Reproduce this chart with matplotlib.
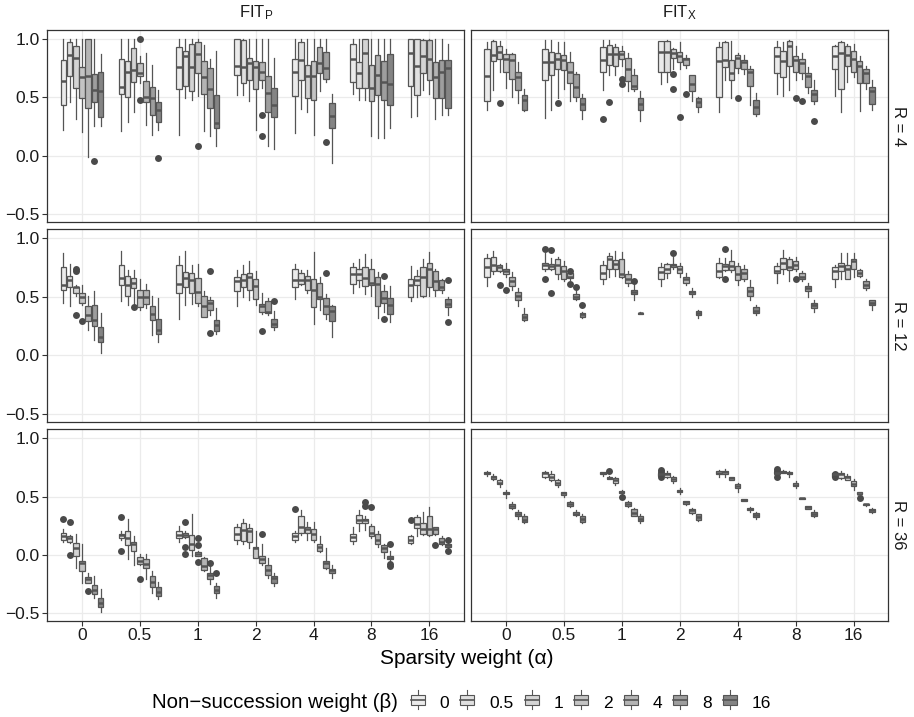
import matplotlib.pyplot as plt
from matplotlib.patches import Rectangle, Patch
from matplotlib.lines import Line2D
from matplotlib.legend_handler import HandlerBase

plt.rcParams['font.family'] = ['Liberation Sans', 'DejaVu Sans']
plt.rcParams['mathtext.default'] = 'regular'

alphas = ['0', '0.5', '1', '2', '4', '8', '16']
betas = ['0', '0.5', '1', '2', '4', '8', '16']
fills = ['#EBEBEB', '#E0E0E0', '#D4D4D4', '#C4C4C4', '#B4B4B4', '#9E9E9E', '#848484']
col_titles = [r'FIT$_{P}$', r'FIT$_{X}$']
row_titles = ['R = 4', 'R = 12', 'R = 36']
y_labels = ['\u22120.5', '0.0', '0.5', '1.0']

# each box: (lower whisker, q1, median, q3, upper whisker); one row of 7 betas per alpha
fitp_r4 = [
    [(0.22, 0.43, 0.64, 0.82, 1.0), (0.46, 0.68, 0.86, 0.97, 1.0), (0.31, 0.58, 0.84, 0.94, 1.0), (0.20, 0.49, 0.67, 0.76, 1.0), (-0.01, 0.41, 0.68, 1.0, 1.0), (0.25, 0.46, 0.56, 0.70, 1.0), (0.25, 0.33, 0.55, 0.72, 0.87)],
    [(0.21, 0.53, 0.59, 0.83, 1.0), (0.29, 0.50, 0.72, 0.81, 1.0), (0.37, 0.63, 0.73, 0.92, 1.0), (0.62, 0.68, 0.71, 0.79, 0.85), (0.26, 0.46, 0.50, 0.64, 0.88), (0.18, 0.35, 0.49, 0.59, 0.78), (0.22, 0.29, 0.39, 0.46, 0.56)],
    [(0.18, 0.57, 0.76, 0.93, 1.0), (0.49, 0.60, 0.85, 0.90, 1.0), (0.48, 0.55, 0.76, 0.96, 1.0), (0.51, 0.71, 0.87, 0.97, 1.0), (0.21, 0.53, 0.67, 0.81, 0.95), (0.17, 0.41, 0.57, 0.75, 0.83), (0.08, 0.24, 0.28, 0.52, 0.90)],
    [(0.52, 0.69, 0.77, 1.0, 1.0), (0.52, 0.62, 0.76, 0.99, 1.0), (0.47, 0.65, 0.79, 0.84, 1.0), (0.22, 0.57, 0.76, 0.81, 1.0), (0.58, 0.65, 0.72, 0.80, 1.0), (0.08, 0.37, 0.54, 0.68, 1.0), (0.06, 0.33, 0.43, 0.58, 0.84)],
    [(0.19, 0.51, 0.72, 0.83, 1.0), (0.40, 0.65, 0.82, 0.97, 1.0), (0.37, 0.49, 0.68, 0.78, 1.0), (0.18, 0.48, 0.68, 0.81, 1.0), (0.55, 0.71, 0.79, 0.93, 1.0), (0.63, 0.66, 0.75, 0.89, 1.0), (-0.06, 0.24, 0.34, 0.45, 0.53)],
    [(0.53, 0.63, 0.83, 0.96, 1.0), (0.48, 0.58, 0.71, 0.80, 1.0), (0.48, 0.58, 0.88, 1.0, 1.0), (0.17, 0.47, 0.58, 0.78, 1.0), (0.15, 0.52, 0.69, 0.86, 1.0), (0.15, 0.48, 0.63, 0.81, 1.0), (0.24, 0.43, 0.61, 0.87, 1.0)],
    [(0.33, 0.60, 0.88, 1.0, 1.0), (0.34, 0.52, 0.77, 1.0, 1.0), (0.56, 0.71, 0.85, 0.99, 1.0), (0.53, 0.65, 0.83, 0.99, 1.0), (0.31, 0.49, 0.67, 0.80, 1.0), (0.35, 0.49, 0.72, 0.82, 1.0), (0.35, 0.41, 0.75, 0.82, 0.96)],
]
# outliers: (alpha index, beta index, value)
fitp_r4_out = [(0, 5, -0.05), (1, 3, 1.0), (1, 3, 0.48), (1, 6, -0.02), (2, 3, 0.08),
               (3, 4, 0.35), (3, 4, 0.17), (4, 5, 0.12)]

fitx_r4 = [
    [(0.39, 0.47, 0.68, 0.91, 0.97), (0.56, 0.81, 0.86, 0.98, 0.99), (0.72, 0.83, 0.89, 0.94, 0.98), (0.58, 0.72, 0.83, 0.87, 0.91), (0.50, 0.66, 0.82, 0.87, 0.88), (0.45, 0.56, 0.67, 0.72, 0.80), (0.38, 0.39, 0.48, 0.52, 0.57)],
    [(0.32, 0.65, 0.80, 0.91, 0.99), (0.39, 0.69, 0.80, 0.89, 0.99), (0.49, 0.74, 0.83, 0.88, 0.97), (0.57, 0.73, 0.82, 0.86, 0.97), (0.47, 0.62, 0.72, 0.80, 0.89), (0.47, 0.50, 0.59, 0.70, 0.72), (0.31, 0.39, 0.44, 0.49, 0.53)],
    [(0.56, 0.72, 0.82, 0.93, 0.99), (0.69, 0.78, 0.87, 0.95, 0.99), (0.69, 0.77, 0.87, 0.93, 0.96), (0.77, 0.83, 0.87, 0.90, 0.94), (0.55, 0.64, 0.74, 0.84, 0.88), (0.55, 0.57, 0.60, 0.69, 0.74), (0.30, 0.39, 0.44, 0.49, 0.55)],
    [(0.61, 0.72, 0.89, 0.98, 0.98), (0.63, 0.72, 0.89, 0.98, 0.99), (0.74, 0.84, 0.88, 0.91, 0.92), (0.74, 0.80, 0.85, 0.89, 0.97), (0.75, 0.78, 0.83, 0.84, 0.86), (0.47, 0.55, 0.61, 0.69, 0.69), (0.37, 0.42, 0.46, 0.49, 0.50)],
    [(0.37, 0.50, 0.81, 0.93, 0.97), (0.65, 0.76, 0.82, 0.97, 0.98), (0.49, 0.65, 0.71, 0.82, 0.98), (0.71, 0.75, 0.84, 0.86, 0.88), (0.70, 0.74, 0.80, 0.82, 0.86), (0.43, 0.60, 0.72, 0.74, 0.77), (0.34, 0.36, 0.42, 0.48, 0.54)],
    [(0.53, 0.71, 0.85, 0.93, 0.98), (0.51, 0.67, 0.81, 0.90, 0.97), (0.56, 0.77, 0.94, 0.98, 0.99), (0.65, 0.72, 0.82, 0.85, 0.94), (0.66, 0.71, 0.79, 0.83, 0.88), (0.54, 0.59, 0.68, 0.71, 0.76), (0.44, 0.47, 0.53, 0.56, 0.65)],
    [(0.51, 0.74, 0.85, 0.94, 0.95), (0.37, 0.57, 0.88, 0.97, 0.98), (0.63, 0.77, 0.86, 0.94, 0.96), (0.67, 0.72, 0.83, 0.90, 0.96), (0.38, 0.62, 0.77, 0.81, 0.85), (0.57, 0.62, 0.71, 0.74, 0.77), (0.39, 0.44, 0.55, 0.59, 0.65)],
]
fitx_r4_out = [(0, 2, 0.45), (1, 2, 0.45), (2, 0, 0.31), (2, 1, 0.46), (2, 3, 0.66), (2, 3, 0.61),
               (3, 2, 0.70), (3, 2, 0.57), (3, 3, 0.33), (3, 4, 0.53), (4, 3, 0.49),
               (5, 3, 0.49), (5, 4, 0.47), (5, 6, 0.30)]

fitp_r12 = [
    [(0.45, 0.56, 0.60, 0.75, 0.87), (0.42, 0.58, 0.64, 0.68, 0.78), (0.51, 0.53, 0.58, 0.58, 0.60), (0.43, 0.45, 0.50, 0.53, 0.60), (0.22, 0.29, 0.34, 0.42, 0.51), (0.13, 0.25, 0.30, 0.43, 0.55), (0.02, 0.11, 0.16, 0.24, 0.36)],
    [(0.46, 0.60, 0.66, 0.77, 0.89), (0.43, 0.51, 0.60, 0.68, 0.73), (0.43, 0.57, 0.62, 0.66, 0.73), (0.39, 0.41, 0.50, 0.56, 0.65), (0.40, 0.44, 0.50, 0.56, 0.61), (0.17, 0.30, 0.35, 0.42, 0.51), (0.11, 0.18, 0.22, 0.31, 0.49)],
    [(0.31, 0.53, 0.61, 0.77, 0.85), (0.43, 0.58, 0.66, 0.71, 0.89), (0.44, 0.53, 0.64, 0.70, 0.77), (0.42, 0.45, 0.54, 0.66, 0.78), (0.33, 0.33, 0.42, 0.51, 0.55), (0.34, 0.39, 0.45, 0.47, 0.50), (0.18, 0.21, 0.26, 0.30, 0.40)],
    [(0.42, 0.55, 0.63, 0.67, 0.73), (0.50, 0.58, 0.64, 0.69, 0.77), (0.47, 0.56, 0.67, 0.70, 0.80), (0.43, 0.48, 0.59, 0.65, 0.72), (0.35, 0.37, 0.42, 0.44, 0.53), (0.34, 0.36, 0.37, 0.46, 0.49), (0.22, 0.24, 0.27, 0.31, 0.38)],
    [(0.48, 0.58, 0.64, 0.74, 0.78), (0.60, 0.61, 0.64, 0.70, 0.73), (0.53, 0.56, 0.64, 0.68, 0.73), (0.27, 0.41, 0.56, 0.65, 0.88), (0.39, 0.48, 0.50, 0.62, 0.67), (0.31, 0.35, 0.42, 0.49, 0.52), (0.16, 0.29, 0.38, 0.42, 0.43)],
    [(0.53, 0.61, 0.69, 0.75, 0.79), (0.58, 0.64, 0.69, 0.74, 0.82), (0.52, 0.59, 0.66, 0.75, 0.86), (0.51, 0.60, 0.62, 0.74, 0.82), (0.32, 0.42, 0.61, 0.67, 0.71), (0.37, 0.45, 0.49, 0.55, 0.60), (0.28, 0.35, 0.43, 0.49, 0.59)],
    [(0.46, 0.50, 0.60, 0.65, 0.76), (0.50, 0.60, 0.64, 0.68, 0.73), (0.50, 0.51, 0.67, 0.75, 0.82), (0.51, 0.58, 0.74, 0.79, 0.88), (0.51, 0.56, 0.63, 0.72, 0.74), (0.53, 0.56, 0.58, 0.64, 0.65), (0.34, 0.41, 0.44, 0.48, 0.50)],
]
fitp_r12_out = [(0, 2, 0.74), (0, 2, 0.72), (0, 2, 0.34), (0, 3, 0.29), (1, 2, 0.41),
                (2, 5, 0.72), (2, 5, 0.19), (3, 4, 0.21), (3, 6, 0.46), (4, 5, 0.70),
                (5, 5, 0.68), (5, 5, 0.31), (6, 6, 0.64), (6, 6, 0.28)]

fitx_r12 = [
    [(0.59, 0.67, 0.75, 0.83, 0.86), (0.69, 0.72, 0.77, 0.84, 0.89), (0.71, 0.72, 0.75, 0.77, 0.78), (0.67, 0.69, 0.72, 0.74, 0.79), (0.56, 0.59, 0.63, 0.67, 0.71), (0.42, 0.47, 0.51, 0.54, 0.57), (0.29, 0.30, 0.33, 0.35, 0.40)],
    [(0.72, 0.74, 0.77, 0.79, 0.87), (0.73, 0.74, 0.76, 0.78, 0.83), (0.65, 0.69, 0.77, 0.82, 0.84), (0.63, 0.65, 0.72, 0.76, 0.80), (0.64, 0.66, 0.67, 0.70, 0.72), (0.47, 0.48, 0.50, 0.52, 0.55), (0.32, 0.33, 0.35, 0.36, 0.37)],
    [(0.61, 0.65, 0.70, 0.77, 0.80), (0.67, 0.74, 0.82, 0.85, 0.87), (0.68, 0.74, 0.78, 0.81, 0.89), (0.66, 0.67, 0.69, 0.82, 0.88), (0.59, 0.62, 0.65, 0.69, 0.72), (0.47, 0.52, 0.54, 0.56, 0.62), (0.35, 0.355, 0.36, 0.365, 0.37)],
    [(0.59, 0.65, 0.71, 0.75, 0.79), (0.66, 0.70, 0.74, 0.78, 0.79), (0.74, 0.75, 0.77, 0.78, 0.84), (0.67, 0.70, 0.74, 0.76, 0.79), (0.60, 0.62, 0.65, 0.67, 0.70), (0.50, 0.52, 0.54, 0.55, 0.57), (0.32, 0.34, 0.36, 0.38, 0.39)],
    [(0.66, 0.67, 0.72, 0.79, 0.83), (0.72, 0.73, 0.76, 0.78, 0.83), (0.71, 0.73, 0.76, 0.80, 0.90), (0.60, 0.64, 0.69, 0.76, 0.79), (0.63, 0.65, 0.70, 0.74, 0.77), (0.47, 0.51, 0.55, 0.58, 0.64), (0.34, 0.36, 0.38, 0.41, 0.43)],
    [(0.62, 0.70, 0.72, 0.76, 0.79), (0.69, 0.74, 0.79, 0.83, 0.90), (0.63, 0.73, 0.75, 0.82, 0.84), (0.72, 0.74, 0.77, 0.80, 0.84), (0.63, 0.65, 0.67, 0.70, 0.72), (0.50, 0.55, 0.57, 0.59, 0.62), (0.37, 0.40, 0.43, 0.45, 0.47)],
    [(0.58, 0.65, 0.72, 0.75, 0.77), (0.65, 0.72, 0.76, 0.79, 0.87), (0.65, 0.65, 0.74, 0.77, 0.87), (0.67, 0.74, 0.80, 0.82, 0.87), (0.67, 0.68, 0.70, 0.73, 0.74), (0.56, 0.57, 0.60, 0.63, 0.65), (0.39, 0.43, 0.45, 0.47, 0.47)],
]
fitx_r12_out = [(0, 2, 0.60), (0, 3, 0.56), (1, 0, 0.91), (1, 0, 0.65), (1, 1, 0.90), (1, 1, 0.53),
                (1, 4, 0.72), (1, 4, 0.61), (1, 5, 0.58), (1, 6, 0.43), (2, 5, 0.63),
                (3, 2, 0.87), (4, 1, 0.91), (4, 1, 0.65), (5, 3, 0.65)]

fitp_r36 = [
    [(0.11, 0.13, 0.16, 0.19, 0.22), (0.10, 0.11, 0.14, 0.16, 0.17), (-0.11, -0.01, 0.06, 0.10, 0.18), (-0.24, -0.14, -0.07, -0.05, 0.09), (-0.24, -0.24, -0.21, -0.19, -0.16), (-0.37, -0.34, -0.30, -0.26, -0.18), (-0.49, -0.45, -0.41, -0.37, -0.29)],
    [(0.13, 0.14, 0.17, 0.18, 0.20), (-0.04, 0.08, 0.14, 0.20, 0.31), (-0.09, 0.03, 0.09, 0.11, 0.16), (-0.09, -0.08, -0.05, -0.02, 0.01), (-0.21, -0.11, -0.08, -0.04, 0.01), (-0.33, -0.28, -0.23, -0.18, -0.14), (-0.38, -0.35, -0.32, -0.28, -0.23)],
    [(0.11, 0.14, 0.17, 0.20, 0.25), (0.14, 0.15, 0.17, 0.19, 0.20), (-0.01, 0.04, 0.09, 0.17, 0.35), (-0.01, -0.01, 0.01, 0.02, 0.03), (-0.14, -0.13, -0.10, -0.03, -0.02), (-0.25, -0.21, -0.17, -0.16, -0.10), (-0.37, -0.33, -0.30, -0.27, -0.24)],
    [(0.09, 0.13, 0.18, 0.24, 0.26), (0.09, 0.12, 0.21, 0.27, 0.31), (0.06, 0.11, 0.20, 0.23, 0.26), (-0.03, -0.03, 0.06, 0.07, 0.20), (-0.09, -0.07, -0.04, -0.01, 0.09), (-0.20, -0.17, -0.13, -0.09, -0.03), (-0.27, -0.24, -0.20, -0.18, -0.16)],
    [(0.11, 0.13, 0.16, 0.19, 0.20), (0.17, 0.19, 0.24, 0.33, 0.38), (0.13, 0.19, 0.22, 0.24, 0.28), (0.11, 0.13, 0.18, 0.22, 0.28), (0.02, 0.03, 0.07, 0.09, 0.16), (-0.12, -0.11, -0.07, -0.05, 0.06), (-0.20, -0.16, -0.13, -0.12, -0.09)],
    [(0.09, 0.12, 0.15, 0.18, 0.24), (0.20, 0.27, 0.30, 0.34, 0.38), (0.21, 0.27, 0.30, 0.31, 0.33), (0.14, 0.16, 0.19, 0.25, 0.26), (0.07, 0.09, 0.13, 0.18, 0.20), (-0.03, 0.02, 0.06, 0.08, 0.09), (-0.05, -0.04, -0.03, -0.01, 0.03)],
    [(0.09, 0.10, 0.13, 0.16, 0.17), (0.16, 0.23, 0.26, 0.32, 0.34), (0.17, 0.18, 0.22, 0.27, 0.37), (0.16, 0.17, 0.22, 0.33, 0.41), (0.17, 0.18, 0.22, 0.24, 0.24), (0.08, 0.09, 0.11, 0.14, 0.16), (0.06, 0.07, 0.08, 0.09, 0.10)],
]
fitp_r36_out = [(0, 0, 0.31), (0, 1, 0.28), (0, 1, 0.0), (0, 4, -0.31), (1, 0, 0.32), (1, 0, 0.03),
                (1, 3, -0.21), (2, 1, 0.28), (2, 1, 0.07), (2, 1, 0.01), (2, 3, 0.14), (2, 3, 0.08),
                (2, 3, -0.06), (2, 5, -0.07), (2, 6, -0.16), (3, 4, 0.18), (4, 0, 0.39),
                (5, 2, 0.45), (5, 2, 0.42), (5, 3, 0.41), (5, 6, 0.09), (5, 6, -0.08), (5, 6, -0.10),
                (6, 0, 0.30), (6, 4, 0.08), (6, 6, 0.13), (6, 6, 0.03)]

fitx_r36 = [
    [(0.68, 0.69, 0.70, 0.71, 0.72), (0.64, 0.65, 0.67, 0.68, 0.69), (0.58, 0.61, 0.62, 0.64, 0.65), (0.49, 0.52, 0.53, 0.54, 0.56), (0.39, 0.40, 0.42, 0.44, 0.45), (0.31, 0.33, 0.35, 0.37, 0.38), (0.27, 0.28, 0.30, 0.33, 0.35)],
    [(0.66, 0.67, 0.70, 0.71, 0.72), (0.63, 0.64, 0.67, 0.69, 0.72), (0.58, 0.60, 0.62, 0.64, 0.65), (0.50, 0.51, 0.53, 0.54, 0.54), (0.41, 0.42, 0.44, 0.45, 0.46), (0.33, 0.34, 0.35, 0.37, 0.38), (0.27, 0.28, 0.31, 0.33, 0.35)],
    [(0.68, 0.69, 0.70, 0.71, 0.71), (0.65, 0.65, 0.66, 0.67, 0.68), (0.60, 0.62, 0.64, 0.66, 0.67), (0.52, 0.53, 0.54, 0.55, 0.56), (0.41, 0.42, 0.44, 0.45, 0.46), (0.33, 0.33, 0.36, 0.39, 0.40), (0.27, 0.29, 0.31, 0.33, 0.35)],
    [(0.68, 0.68, 0.69, 0.70, 0.70), (0.66, 0.67, 0.69, 0.70, 0.72), (0.62, 0.63, 0.65, 0.67, 0.68), (0.52, 0.54, 0.55, 0.56, 0.57), (0.43, 0.44, 0.45, 0.46, 0.46), (0.35, 0.36, 0.38, 0.39, 0.40), (0.29, 0.30, 0.32, 0.35, 0.35)],
    [(0.67, 0.69, 0.70, 0.72, 0.73), (0.67, 0.69, 0.71, 0.72, 0.74), (0.64, 0.64, 0.66, 0.67, 0.67), (0.54, 0.57, 0.59, 0.61, 0.62), (0.46, 0.46, 0.47, 0.48, 0.48), (0.37, 0.38, 0.39, 0.40, 0.41), (0.31, 0.32, 0.34, 0.36, 0.37)],
    [(0.69, 0.70, 0.705, 0.71, 0.715), (0.70, 0.70, 0.71, 0.715, 0.73), (0.67, 0.69, 0.70, 0.71, 0.715), (0.57, 0.59, 0.60, 0.62, 0.63), (0.48, 0.48, 0.49, 0.49, 0.49), (0.39, 0.39, 0.41, 0.42, 0.42), (0.32, 0.33, 0.35, 0.37, 0.38)],
    [(0.66, 0.67, 0.69, 0.70, 0.70), (0.65, 0.66, 0.69, 0.70, 0.72), (0.64, 0.64, 0.67, 0.68, 0.69), (0.56, 0.59, 0.61, 0.63, 0.65), (0.51, 0.52, 0.52, 0.54, 0.54), (0.42, 0.43, 0.44, 0.44, 0.44), (0.36, 0.37, 0.38, 0.39, 0.40)],
]
fitx_r36_out = [(2, 1, 0.72), (2, 3, 0.50), (3, 0, 0.73), (3, 0, 0.71), (3, 0, 0.67),
                (5, 0, 0.74), (5, 0, 0.72), (5, 0, 0.70), (5, 0, 0.67),
                (6, 0, 0.69), (6, 0, 0.67), (6, 4, 0.49)]

panels = [[(fitp_r4, fitp_r4_out), (fitx_r4, fitx_r4_out)],
          [(fitp_r12, fitp_r12_out), (fitx_r12, fitx_r12_out)],
          [(fitp_r36, fitp_r36_out), (fitx_r36, fitx_r36_out)]]

W, H = 914, 717
edge = '#555555'
fig = plt.figure(figsize=(W / 100, H / 100), dpi=100)

col_px = [(47.3, 464.0), (471.0, 888.3)]
row_px = [(30.0, 221.7), (229.0, 421.7), (429.3, 620.7)]

for r in range(3):
    for c in range(2):
        x0, x1 = col_px[c]
        y0, y1 = row_px[r]
        ax = fig.add_axes([x0 / W, 1 - y1 / H, (x1 - x0) / W, (y1 - y0) / H])
        boxes, outs = panels[r][c]
        stats, pos, cols = [], [], []
        for i, row in enumerate(boxes):
            for j, (lo, q1, med, q3, hi) in enumerate(row):
                fl = [v for (a, b, v) in outs if a == i and b == j]
                stats.append(dict(whislo=lo, q1=q1, med=med, q3=q3, whishi=hi, fliers=fl))
                pos.append(i + (j - 3) * 0.107)
                cols.append(fills[j])
        art = ax.bxp(stats, positions=pos, widths=0.095, patch_artist=True, showcaps=False,
                     manage_ticks=False,
                     boxprops=dict(edgecolor=edge, linewidth=0.9),
                     medianprops=dict(color=edge, linewidth=1.8),
                     whiskerprops=dict(color=edge, linewidth=0.9),
                     flierprops=dict(marker='o', markerfacecolor='#4a4a4a',
                                     markeredgecolor='none', markersize=5))
        for b, col in zip(art['boxes'], cols):
            b.set_facecolor(col)

        ax.set_xlim(-0.6, 6.6)
        ax.set_ylim(-0.566, 1.077)
        ax.set_xticks(range(7))
        ax.set_yticks([-0.5, 0.0, 0.5, 1.0])
        ax.grid(True, color='#EBEBEB', linewidth=0.9)
        ax.set_axisbelow(True)
        for s in ax.spines.values():
            s.set_color('#333333')
            s.set_linewidth(0.9)
        ax.tick_params(length=3.5, width=0.8, color='#333333', labelsize=12.5,
                       labelcolor='#1a1a1a', pad=2)
        if r == 2:
            ax.set_xticklabels(alphas)
        else:
            ax.tick_params(axis='x', length=0, labelbottom=False)
        if c == 0:
            ax.set_yticklabels(y_labels)
        else:
            ax.tick_params(axis='y', length=0, labelleft=False)

for c in range(2):
    x0, x1 = col_px[c]
    fig.text((x0 + x1) / 2 / W, 1 - 13 / H, col_titles[c], ha='center', va='center',
             fontsize=12, color='#1a1a1a')
for r in range(3):
    y0, y1 = row_px[r]
    fig.text(899 / W, 1 - (y0 + y1) / 2 / H, row_titles[r], ha='center', va='center',
             rotation=-90, fontsize=12, color='#1a1a1a')

fig.text(467 / W, 1 - 658 / H, 'Sparsity weight (\u03b1)', ha='center', va='center', fontsize=15)


class BoxKey(HandlerBase):
    def create_artists(self, legend, orig, xd, yd, w, h, fontsize, trans):
        fc = orig.get_facecolor()
        cx = xd + w / 2
        bx = Rectangle((xd + w * 0.05, yd + h * 0.15), w * 0.9, h * 0.7, facecolor=fc,
                       edgecolor=edge, linewidth=0.8, transform=trans)
        md = Line2D([xd + w * 0.05, xd + w * 0.95], [yd + h / 2] * 2, color=edge, lw=1.2,
                    transform=trans)
        w1 = Line2D([cx, cx], [yd - h * 0.15, yd + h * 0.15], color=edge, lw=0.8, transform=trans)
        w2 = Line2D([cx, cx], [yd + h * 0.85, yd + h * 1.15], color=edge, lw=0.8, transform=trans)
        return [w1, w2, bx, md]


handles = [Patch(facecolor=f) for f in fills]
fig.text(398 / W, 1 - 703 / H, 'Non\u2212succession weight (\u03b2)', ha='right', va='center',
         fontsize=14.7)
fig.legend(handles=handles, labels=betas, handler_map={Patch: BoxKey()}, ncol=7,
           loc='center left', bbox_to_anchor=(410 / W, 1 - 703 / H), frameon=False,
           fontsize=12.5, handlelength=0.9, handleheight=0.9, handletextpad=0.8,
           columnspacing=0.6, borderpad=0, borderaxespad=0)

fig.savefig('out.png', dpi=100)
